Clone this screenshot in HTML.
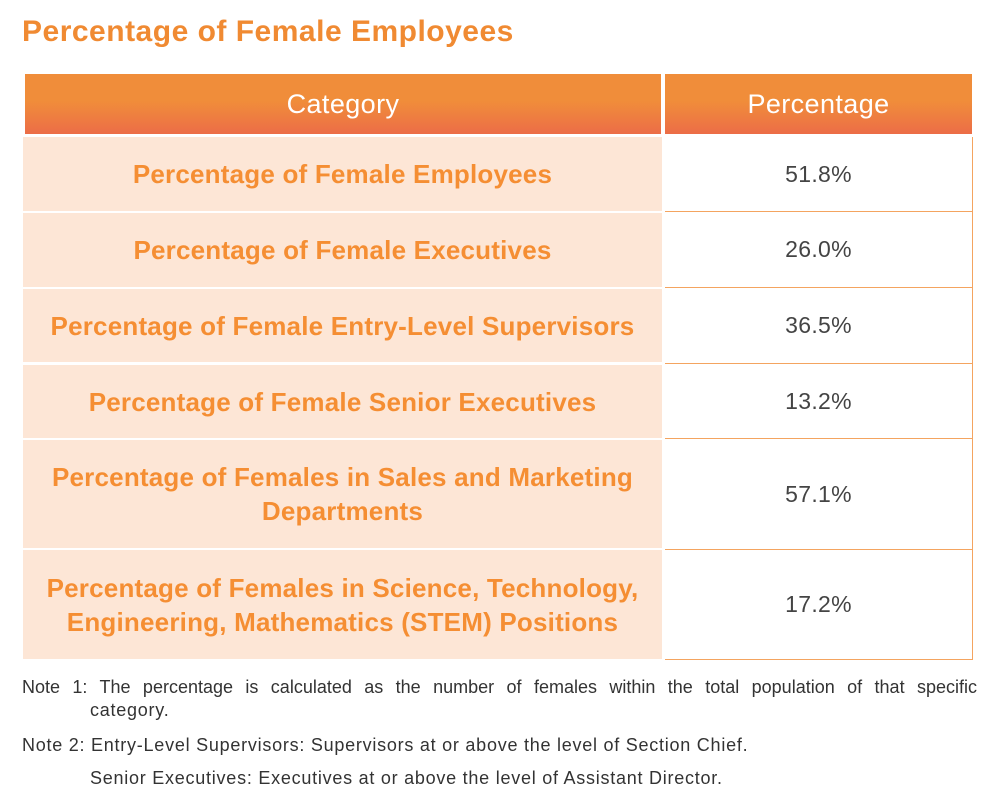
<!DOCTYPE html>
<html><head><style>
body{margin:0;width:995px;height:804px;background:#fff;font-family:"Liberation Sans",sans-serif;position:relative;overflow:hidden}
.a{position:absolute}
.t{left:22px;top:15px;font-size:30px;font-weight:bold;color:#f08a32;letter-spacing:0.5px}
.h{top:74px;height:60px;background:linear-gradient(#f08d3a 0%,#f08d3a 45%,#ec6d47 100%);color:#fff;font-size:27px;display:flex;align-items:center;justify-content:center;letter-spacing:0.4px}
.l{left:23px;width:639px;background:#fde6d6;color:#f58e33;font-weight:bold;font-size:26px;display:flex;align-items:center;justify-content:center;text-align:center;line-height:34px;letter-spacing:0.2px}
.r{left:665px;width:308px;border-bottom:1px solid #f4a460;border-right:1px solid #f4a460;color:#444;font-size:23px;display:flex;align-items:center;justify-content:center;box-sizing:border-box;letter-spacing:0.3px}
.n{left:22px;font-size:18px;color:#333;line-height:23px;letter-spacing:0.75px}
</style></head><body>
<div class="a t">Percentage of Female Employees</div>
<div class="a h" style="left:25px;width:636px">Category</div>
<div class="a h" style="left:665px;width:307px">Percentage</div>

<div class="a l" style="top:137px;height:74px">Percentage of Female Employees</div>
<div class="a r" style="top:137px;height:75px">51.8%</div>
<div class="a l" style="top:213px;height:74px">Percentage of Female Executives</div>
<div class="a r" style="top:212px;height:76px">26.0%</div>
<div class="a l" style="top:289px;height:73px">Percentage of Female Entry-Level Supervisors</div>
<div class="a r" style="top:288px;height:76px">36.5%</div>
<div class="a l" style="top:365px;height:73px">Percentage of Female Senior Executives</div>
<div class="a r" style="top:364px;height:75px">13.2%</div>
<div class="a l" style="top:440px;height:108px">Percentage of Females in Sales and Marketing<br>Departments</div>
<div class="a r" style="top:439px;height:111px">57.1%</div>
<div class="a l" style="top:550px;height:109px">Percentage of Females in Science, Technology,<br>Engineering, Mathematics (STEM) Positions</div>
<div class="a r" style="top:550px;height:110px">17.2%</div>

<div class="a n" style="top:676px;width:955px;text-align:justify;text-align-last:justify;letter-spacing:0">Note 1: The percentage is calculated as the number of females within the total population of that specific</div>
<div class="a n" style="top:699px;left:90px">category.</div>
<div class="a n" style="top:734px">Note 2: Entry-Level Supervisors: Supervisors at or above the level of Section Chief.</div>
<div class="a n" style="top:767px;left:90px">Senior Executives: Executives at or above the level of Assistant Director.</div>
</body></html>
